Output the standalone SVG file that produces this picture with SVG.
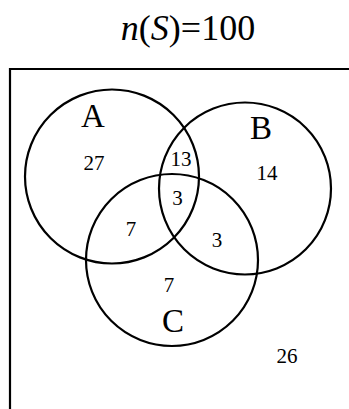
<svg xmlns="http://www.w3.org/2000/svg" width="349" height="409" viewBox="0 0 349 409">
<style>
.c{fill:none;stroke:#000;stroke-width:2.2}
.t{font-family:"Liberation Serif","Times New Roman",serif;fill:#000;text-anchor:middle}
.n{font-size:21px}
.l{font-size:33px}
</style>
<rect width="349" height="409" fill="#fff"/>
<text class="t" x="188" y="40" font-size="36"><tspan font-style="italic">n</tspan>(<tspan font-style="italic">S</tspan>)=100</text>
<g id="frame"><path d="M10,409 V69 H349" fill="none" stroke="#000" stroke-width="2.2"/></g>
<g id="A"><circle class="c" cx="112" cy="176.5" r="87"/><text class="t l" x="93" y="127">A</text></g>
<g id="B"><circle class="c" cx="245" cy="188.5" r="86"/><text class="t l" x="261" y="139">B</text></g>
<g id="C"><circle class="c" cx="172" cy="260" r="86"/><text class="t l" x="173" y="332">C</text></g>
<g id="regions">
<text class="t n" x="94" y="170">27</text>
<text class="t n" x="181" y="166">13</text>
<text class="t n" x="267" y="180">14</text>
<text class="t n" x="177.5" y="205">3</text>
<text class="t n" x="131" y="236">7</text>
<text class="t n" x="217" y="247">3</text>
<text class="t n" x="169" y="292">7</text>
<text class="t n" x="287" y="363">26</text>
</g>
<g id="connectors"></g>
</svg>
